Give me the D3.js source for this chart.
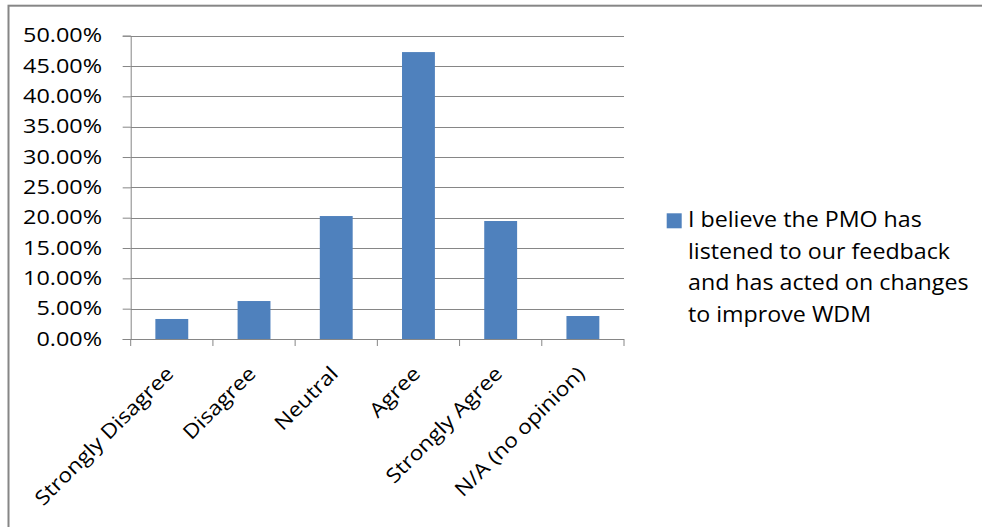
<!DOCTYPE html>
<html>
<head>
<meta charset="utf-8">
<script src="https://cdn.jsdelivr.net/npm/d3@7"></script>
<style>
  html, body { margin: 0; padding: 0; background: #fff; }
  svg { display: block; }
  text { font-family: "Open Sans", "Noto Sans", sans-serif; fill: #000; }
</style>
</head>
<body>
<svg id="chart" width="982" height="527"></svg>
<script>
const categories = ["Strongly Disagree", "Disagree", "Neutral", "Agree", "Strongly Agree", "N/A (no opinion)"];
const values = [0.033, 0.0626, 0.2027, 0.473, 0.1945, 0.0379];
const yTicks = [0, 0.05, 0.10, 0.15, 0.20, 0.25, 0.30, 0.35, 0.40, 0.45, 0.50];
const legendLines = ["I believe the PMO has", "listened to our feedback", "and has acted on changes", "to improve WDM"];

const W = 982, H = 527;
const plot = { left: 130.7, right: 624, top: 35.7, bottom: 339 };
const gridColor = "#868686";
const barColor = "#4F81BD";
const sx = 1.14;  // horizontal stretch of the text, as in the reference
const syx = 1.2;  // stretch of the y tick labels

const svg = d3.select("#chart");

// chart area border (partially visible)
svg.append("rect")
  .attr("x", 8.5).attr("y", 5.7)
  .attr("width", 1200).attr("height", 1200)
  .attr("fill", "none").attr("stroke", gridColor).attr("stroke-width", 2);

const x = d3.scaleBand().domain(categories)
  .range([plot.left, plot.right]).paddingInner(0.6).paddingOuter(0.3);
const xb = d3.scaleBand().domain(categories).range([plot.left, plot.right]).padding(0);
const y = d3.scaleLinear().domain([0, 0.5]).range([plot.bottom, plot.top]);

// gridlines
svg.append("g").selectAll("line").data(yTicks).join("line")
  .attr("x1", plot.left).attr("x2", plot.right)
  .attr("y1", d => Math.round(y(d)) + 0.5).attr("y2", d => Math.round(y(d)) + 0.5)
  .attr("stroke", gridColor).attr("stroke-width", 1);

// bars
svg.append("g").selectAll("rect").data(values).join("rect")
  .attr("x", (d, i) => x(categories[i]))
  .attr("width", x.bandwidth())
  .attr("y", d => y(d))
  .attr("height", d => y(0) - y(d))
  .attr("fill", barColor);

// y axis
const yAxis = d3.axisLeft(y).tickValues(yTicks).tickSize(8).tickPadding(20)
  .tickFormat(d => (d * 100).toFixed(2) + "%");
const gy = svg.append("g").attr("transform", `translate(${plot.left},0)`).call(yAxis);
gy.select(".domain").attr("stroke", gridColor);
gy.selectAll(".tick line").attr("stroke", gridColor);
gy.selectAll(".tick text")
  .attr("font-size", 19.5).attr("font-family", "Open Sans").attr("fill", "#000")
  .attr("x", -28.7 / syx)
  .attr("transform", `scale(${syx},1)`);

// x axis
const boundaries = categories.map(c => xb(c)).concat([plot.right]);
svg.append("line").attr("x1", plot.left).attr("x2", plot.right)
  .attr("y1", Math.round(plot.bottom) + 0.5).attr("y2", Math.round(plot.bottom) + 0.5)
  .attr("stroke", gridColor);
svg.append("g").selectAll("line").data(boundaries).join("line")
  .attr("x1", d => d).attr("x2", d => d)
  .attr("y1", plot.bottom).attr("y2", plot.bottom + 7)
  .attr("stroke", gridColor);

svg.append("g").selectAll("text").data(categories).join("text")
  .attr("transform", d => `translate(${xb(d) + xb.bandwidth() / 2 + 3},375) rotate(-45) scale(${sx},1)`)
  .attr("text-anchor", "end")
  .attr("font-size", 20)
  .text(d => d);

// legend
const lg = svg.append("g");
lg.append("rect").attr("x", 666.7).attr("y", 213.3).attr("width", 15).attr("height", 15).attr("fill", barColor);
lg.selectAll("text").data(legendLines).join("text")
  .attr("transform", (d, i) => `translate(688,${227.3 + i * 31.5}) scale(${sx * 0.97},1)`)
  .attr("font-size", 21)
  .text(d => d);
</script>
</body>
</html>
